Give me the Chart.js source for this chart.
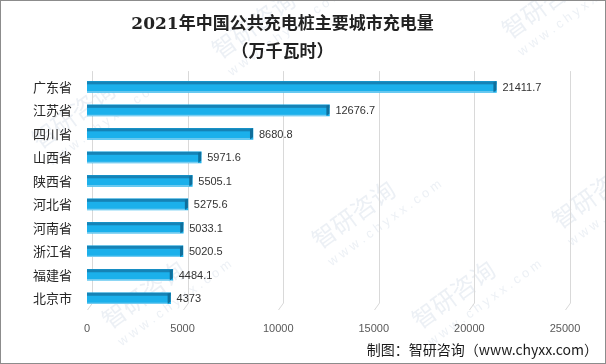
<!DOCTYPE html>
<html>
<head>
<meta charset="utf-8">
<script src="https://cdn.jsdelivr.net/npm/chart.js@4.4.1/dist/chart.umd.min.js"></script>
<style>
  html, body { margin: 0; padding: 0; background: #fff; }
  #wrap { width: 606px; height: 364px; }
</style>
</head>
<body>
<div id="wrap"><canvas id="chart" width="606" height="364"></canvas></div>
<script>
// data
var cities = ["广东省", "江苏省", "四川省", "山西省", "陕西省", "河北省", "河南省", "浙江省", "福建省", "北京市"];
var charge = [21411.7, 12676.7, 8680.8, 5971.6, 5505.1, 5275.6, 5033.1, 5020.5, 4484.1, 4373];
var titleLines = ["2021年中国公共充电桩主要城市充电量", "（万千瓦时）"];
var sourceText = "制图：智研咨询（www.chyxx.com）";

var depthX = 5, depthY = 4;

// back wall grid lines with little floor diagonal
var gridPlugin = {
    id: "grid3d",
    beforeDatasetsDraw: function (chart) {
        var ctx = chart.ctx, area = chart.chartArea, xs = chart.scales.x;
        ctx.save();
        ctx.strokeStyle = "#d9d9d9";
        ctx.lineWidth = 1;
        xs.ticks.forEach(function (t) {
            var px = Math.round(xs.getPixelForValue(t.value)) + 0.5;
            ctx.beginPath();
            ctx.moveTo(px + depthX, area.top - 4);
            ctx.lineTo(px + depthX, area.bottom - depthY - 3);
            ctx.lineTo(px, area.bottom);
            ctx.stroke();
        });
        ctx.restore();
    }
};

// top/side faces and value labels
var barPlugin = {
    id: "bars3d",
    afterDatasetsDraw: function (chart) {
        var ctx = chart.ctx;
        var meta = chart.getDatasetMeta(0);
        ctx.save();
        meta.data.forEach(function (bar, i) {
            var left = bar.base, right = bar.x;
            var top = bar.y - bar.height / 2, bottom = bar.y + bar.height / 2;
            // top face
            ctx.fillStyle = "#1683b6";
            ctx.fillRect(left, top, right - left, 3);
            // side face
            ctx.fillStyle = "#0f6f9c";
            ctx.beginPath();
            ctx.moveTo(right - 3, top + 1);
            ctx.lineTo(right, top);
            ctx.lineTo(right, bottom - 2);
            ctx.lineTo(right - 3, bottom);
            ctx.closePath();
            ctx.fill();
            // light bottom edge
            ctx.fillStyle = "#8fd4f2";
            ctx.fillRect(left, bottom - 1, right - left - 3, 1);

            ctx.fillStyle = "#333333";
            ctx.font = "11px 'Liberation Sans', sans-serif";
            ctx.textBaseline = "middle";
            ctx.textAlign = "left";
            ctx.fillText(String(charge[i]), right + 6, bar.y + 1);
        });
        ctx.restore();
    }
};

// watermark, source line and frame
var decoPlugin = {
    id: "deco",
    beforeDraw: function (chart) {
        var ctx = chart.ctx;
        ctx.save();
        ctx.fillStyle = "#fff";
        ctx.fillRect(0, 0, chart.width, chart.height);
        var marks = [[40, 150], [220, 60], [510, 40], [320, 250], [560, 230], [110, 330], [420, 330]];
        marks.forEach(function (m) {
            ctx.save();
            ctx.translate(m[0], m[1]);
            ctx.rotate(-Math.PI / 5);
            ctx.fillStyle = "rgba(200, 212, 226, 0.35)";
            ctx.font = "24px 'Noto Sans CJK SC'";
            ctx.fillText("智研咨询", 0, 0);
            ctx.font = "13px 'Liberation Sans'";
            ctx.fillText("w w w . c h y x x . c o m", 0, 20);
            ctx.restore();
        });
        ctx.restore();
    },
    afterDraw: function (chart) {
        var ctx = chart.ctx;
        ctx.save();
        ctx.fillStyle = "#1a1a1a";
        ctx.font = "14px 'Noto Sans CJK SC', sans-serif";
        ctx.textAlign = "right";
        ctx.textBaseline = "middle";
        ctx.fillText(sourceText, chart.width - 8, 350);
        ctx.strokeStyle = "#8c8c8c";
        ctx.lineWidth = 1;
        ctx.strokeRect(0.5, 0.5, chart.width - 1, chart.height - 1);
        ctx.restore();
    }
};

new Chart(document.getElementById("chart").getContext("2d"), {
    type: "bar",
    data: {
        labels: cities,
        datasets: [{
            data: charge,
            backgroundColor: "#1bb0eb",
            borderWidth: 0,
            barThickness: 11
        }]
    },
    options: {
        indexAxis: "y",
        responsive: false,
        animation: false,
        layout: { padding: { left: 0, right: 41, top: 0, bottom: 30 } },
        plugins: {
            legend: { display: false },
            tooltip: { enabled: false },
            title: {
                display: true,
                text: titleLines,
                color: "#222222",
                font: { family: "'DejaVu Serif', 'Noto Sans CJK SC'", size: 17, weight: "bold", lineHeight: 1.65 },
                padding: { top: 11, bottom: 8 }
            }
        },
        scales: {
            x: {
                min: 0,
                max: 25000,
                border: { display: false },
                grid: { display: false },
                ticks: {
                    stepSize: 5000,
                    padding: 4,
                    color: "#595959",
                    font: { family: "'Liberation Sans'", size: 11 },
                    callback: function (v) { return String(v); }
                },
                afterFit: function (s) { s.height = 24; }
            },
            y: {
                border: { display: false },
                grid: { display: false, drawTicks: false },
                ticks: {
                    padding: 15,
                    color: "#262626",
                    font: { family: "'Noto Sans CJK SC'", size: 13 }
                },
                afterFit: function (s) { s.width = 87; }
            }
        }
    },
    plugins: [decoPlugin, gridPlugin, barPlugin]
});
</script>
</body>
</html>
